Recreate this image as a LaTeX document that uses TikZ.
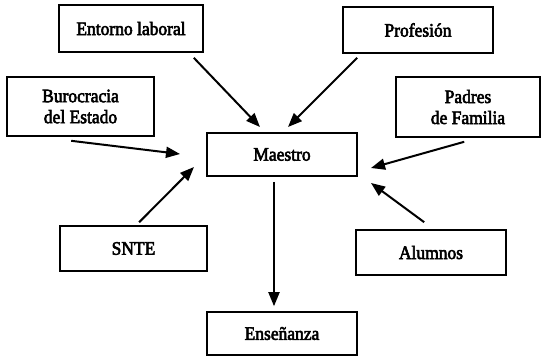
\documentclass[tikz,border=0pt]{standalone}
\usepackage{fontspec}
\setmainfont{Liberation Serif}
\newfontfamily\boxfont{Liberation Serif}[FakeBold=3,FakeStretch=0.92]
\usetikzlibrary{arrows.meta,calc}
\begin{document}
\begin{tikzpicture}[x=1pt,y=-1pt,
  box/.style={draw=black,line width=1.6pt,rectangle,inner sep=0pt,align=center,
    font=\boxfont\fontsize{19}{21}\selectfont,text=black},
  arr/.style={line width=2pt,-{Triangle[length=14pt,width=11pt]}}]
\useasboundingbox (0,0) rectangle (542,357);
\fill[white] (0,0) rectangle (542,357);
\node[box,minimum width=144pt,minimum height=47pt] (ent) at (131,28.5) {Entorno laboral};
\node[box,minimum width=150pt,minimum height=46pt] (pro) at (418,30) {Profesión};
\node[box,minimum width=147pt,minimum height=59pt] (bur) at (80.5,106.5) {Burocracia\\del Estado};
\node[box,minimum width=144pt,minimum height=60pt] (pad) at (468,107) {Padres\\de Familia};
\node[box,minimum width=150pt,minimum height=43pt] (mae) at (282,154.5) {Maestro};
\node[box,minimum width=147pt,minimum height=45pt] (snt) at (133.5,248.5) {SNTE};
\node[box,minimum width=150pt,minimum height=45pt] (alu) at (431,252.5) {Alumnos};
\node[box,minimum width=150pt,minimum height=43pt] (ens) at (282,333.5) {Enseñanza};
% arrow tips near Maestro
\coordinate (tEnt) at (260,127);
\coordinate (tPro) at (288,127);
\coordinate (tBur) at (180,154);
\coordinate (tPad) at (371,168);
\coordinate (tSnt) at (194,167);
\coordinate (tAlu) at (371,183);
\draw[arr] ($(ent.south east)+(-10,5)$) -- (tEnt);
\draw[arr] ($(pro.south west)+(15,4)$) -- (tPro);
\draw[arr] ($(bur.south west)+(65,4)$) -- (tBur);
\draw[arr] ($(pad.south west)+(69,4)$) -- (tPad);
\draw[arr] ($(snt.north west)+(80,-3)$) -- (tSnt);
\draw[arr] ($(alu.north west)+(69,-7)$) -- (tAlu);
\draw[arr] ($(mae.south)+(-8,5)$) -- ($(ens.north)+(-8,-5)$);
\end{tikzpicture}
\end{document}
